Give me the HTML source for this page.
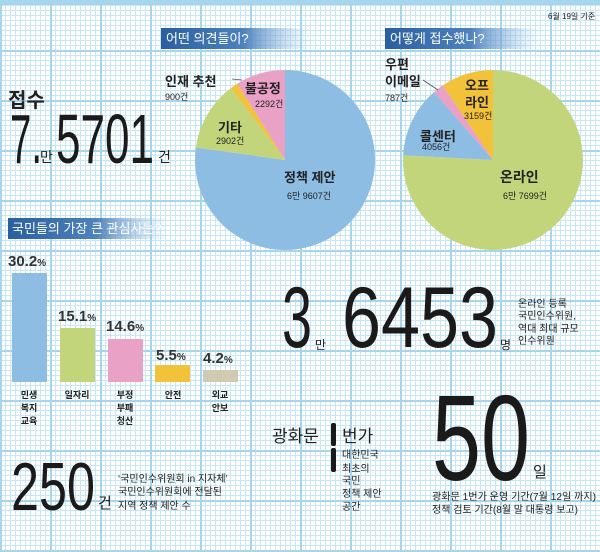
<!DOCTYPE html>
<html><head><meta charset="utf-8"><style>
html,body{margin:0;padding:0;background:#fff}
svg{display:block}
text{font-family:"Liberation Sans","Noto Sans CJK KR",sans-serif;fill:#222}
.b{font-weight:bold}
.d{font-family:"Liberation Sans Narrow","Liberation Sans",sans-serif;font-weight:normal;fill:#1a1a1a}
.w{fill:#fff}
</style></head><body>
<svg width="600" height="552" viewBox="0 0 600 552" xmlns="http://www.w3.org/2000/svg">
<defs>
<pattern id="mn" width="5" height="5" patternUnits="userSpaceOnUse">
<path d="M0 0.5H5M0.5 0V5" stroke="#c9e6f5" stroke-width="1"/>
</pattern>
<pattern id="mj" width="50" height="50" patternUnits="userSpaceOnUse">
<path d="M0 1H50M1 0V50" stroke="#a8d5ee" stroke-width="2"/>
</pattern>
<linearGradient id="bg" x1="0" x2="1"><stop offset="0" stop-color="#2a5f9f"/><stop offset="0.55" stop-color="#4e82bd"/><stop offset="1" stop-color="#9cc4e6" stop-opacity="0"/></linearGradient>
</defs>
<rect width="600" height="552" fill="#fff"/>
<rect width="600" height="552" fill="url(#mn)"/>
<rect width="600" height="552" fill="url(#mj)"/>
<rect x="0" y="2" width="600" height="3" fill="#a8d5ee"/>

<text x="548" y="19" font-size="8">6월 19일 기준</text>

<rect x="161" y="28" width="150" height="21" fill="url(#bg)"/>
<text x="166" y="43" font-size="13" class="w">어떤 의견들이?</text>
<rect x="385" y="28" width="155" height="21" fill="url(#bg)"/>
<text x="390" y="43" font-size="13" class="w">어떻게 접수했나?</text>
<rect x="8" y="218" width="160" height="21" fill="url(#bg)"/>
<text x="12" y="233" font-size="13" class="w">국민들의 가장 큰 관심사는?</text>

<path d="M285 160L285 70A90 90 0 1 1 195.9 147.5Z" fill="#8dbde3"/>
<path d="M285 160L237.3 83.7A90 90 0 0 1 285 70Z" fill="#e9a1c5"/>
<path d="M285 160L230.8 88.1A90 90 0 0 1 237.3 83.7Z" fill="#f2c23a"/>
<path d="M285 160L195.9 147.5A90 90 0 0 1 230.8 88.1Z" fill="#c3d57b"/>
<line x1="232" y1="79" x2="242" y2="80" stroke="#555" stroke-width="0.8"/>
<text x="165" y="86" font-size="13" class="b">인재 추천</text>
<text x="165" y="100" font-size="9">900건</text>
<text x="245" y="93" font-size="13" class="b">불공정</text>
<text x="255" y="107" font-size="9">2292건</text>
<text x="218" y="132" font-size="13" class="b">기타</text>
<text x="216" y="144" font-size="9">2902건</text>
<text x="284" y="182" font-size="13" class="b">정책 제안</text>
<text x="287" y="199" font-size="9">6만 9607건</text>

<path d="M493 160L493 70A90 90 0 1 1 403.1 155.3Z" fill="#c3d57b"/>
<path d="M493 160L442.7 85.4A90 90 0 0 1 493 70Z" fill="#f2c23a"/>
<path d="M493 160L434 92.1A90 90 0 0 1 442.7 85.4Z" fill="#e9a1c5"/>
<path d="M493 160L403.1 155.3A90 90 0 0 1 434 92.1Z" fill="#8dbde3"/>
<line x1="423" y1="80" x2="438" y2="90" stroke="#555" stroke-width="0.8"/>
<text x="385" y="69" font-size="13" class="b">우편</text>
<text x="385" y="86" font-size="13" class="b">이메일</text>
<text x="385" y="101" font-size="9">787건</text>
<text x="465" y="90" font-size="13" class="b">오프</text>
<text x="465" y="107" font-size="13" class="b">라인</text>
<text x="464" y="119" font-size="9">3159건</text>
<text x="420" y="141" font-size="13" class="b">콜센터</text>
<text x="422" y="150" font-size="9">4056건</text>
<text x="500" y="182" font-size="14" class="b">온라인</text>
<text x="503" y="199" font-size="9">6만 7699건</text>

<text x="8" y="107" font-size="20" class="b">접수</text>
<text x="10" y="163" font-size="70" class="d" textLength="32" lengthAdjust="spacingAndGlyphs">7.</text>
<text x="40" y="162" font-size="14">만</text>
<text x="56" y="163" font-size="70" class="d" textLength="98" lengthAdjust="spacingAndGlyphs">5701</text>
<text x="158" y="162" font-size="14">건</text>

<rect x="12" y="273" width="35" height="109" fill="#8dbde3"/>
<rect x="60" y="328" width="35" height="54" fill="#c3d57b"/>
<rect x="108" y="339" width="35" height="43" fill="#e9a1c5"/>
<rect x="155" y="365" width="35" height="17" fill="#f2c23a"/>
<rect x="203" y="370" width="35" height="12" fill="#cfcbb3"/>
<g font-size="15">
<text x="8" y="266" class="b" style="fill:#333">30.2<tspan font-size="10">%</tspan></text>
<text x="58" y="321" class="b" style="fill:#333">15.1<tspan font-size="10">%</tspan></text>
<text x="106" y="331" class="b" style="fill:#333">14.6<tspan font-size="10">%</tspan></text>
<text x="156" y="360" class="b" style="fill:#333">5.5<tspan font-size="10">%</tspan></text>
<text x="203" y="363" class="b" style="fill:#333">4.2<tspan font-size="10">%</tspan></text>
</g>
<g font-size="9" text-anchor="middle">
<text x="29" y="398" class="b">민생</text><text x="29" y="411" class="b">복지</text><text x="29" y="424" class="b">교육</text>
<text x="77" y="398" class="b">일자리</text>
<text x="125" y="398" class="b">부정</text><text x="125" y="411" class="b">부패</text><text x="125" y="424" class="b">청산</text>
<text x="173" y="398" class="b">안전</text>
<text x="220" y="398" class="b">외교</text><text x="220" y="411" class="b">안보</text>
</g>

<text x="282" y="347" font-size="86" class="d" textLength="30" lengthAdjust="spacingAndGlyphs">3</text>
<text x="315" y="349" font-size="12">만</text>
<text x="342" y="347" font-size="86" class="d" textLength="156" lengthAdjust="spacingAndGlyphs">6453</text>
<text x="500" y="349" font-size="12">명</text>
<g font-size="10">
<text x="518" y="307">온라인 등록</text>
<text x="518" y="319">국민인수위원,</text>
<text x="518" y="332">역대 최대 규모</text>
<text x="518" y="344">인수위원</text>
</g>

<text x="11" y="510" font-size="68" class="d" textLength="84" lengthAdjust="spacingAndGlyphs">250</text>
<text x="98" y="508" font-size="15">건</text>
<g font-size="10">
<text x="118" y="482">‘국민인수위원회 in 지자체’</text>
<text x="118" y="495">국민인수위원회에 전달된</text>
<text x="118" y="509">지역 정책 제안 수</text>
</g>

<text x="272" y="442" font-size="17">광화문</text>
<rect x="331" y="423" width="5" height="23" rx="2" fill="#1a1a1a"/>
<rect x="331" y="448" width="5" height="24" rx="2" fill="#1a1a1a"/>
<text x="342" y="442" font-size="17">번가</text>
<g font-size="10">
<text x="342" y="458">대한민국</text>
<text x="342" y="472">최초의</text>
<text x="342" y="484">국민</text>
<text x="342" y="497">정책 제안</text>
<text x="342" y="510">공간</text>
</g>

<text x="432" y="480" font-size="122" class="d" textLength="98" lengthAdjust="spacingAndGlyphs">50</text>
<text x="533" y="477" font-size="15">일</text>
<g font-size="10">
<text x="432" y="500" textLength="164" lengthAdjust="spacingAndGlyphs">광화문 1번가 운영 기간(7월 12일 까지)</text>
<text x="432" y="513" textLength="146" lengthAdjust="spacingAndGlyphs">정책 검토 기간(8월 말 대통령 보고)</text>
</g>
</svg>
</body></html>
